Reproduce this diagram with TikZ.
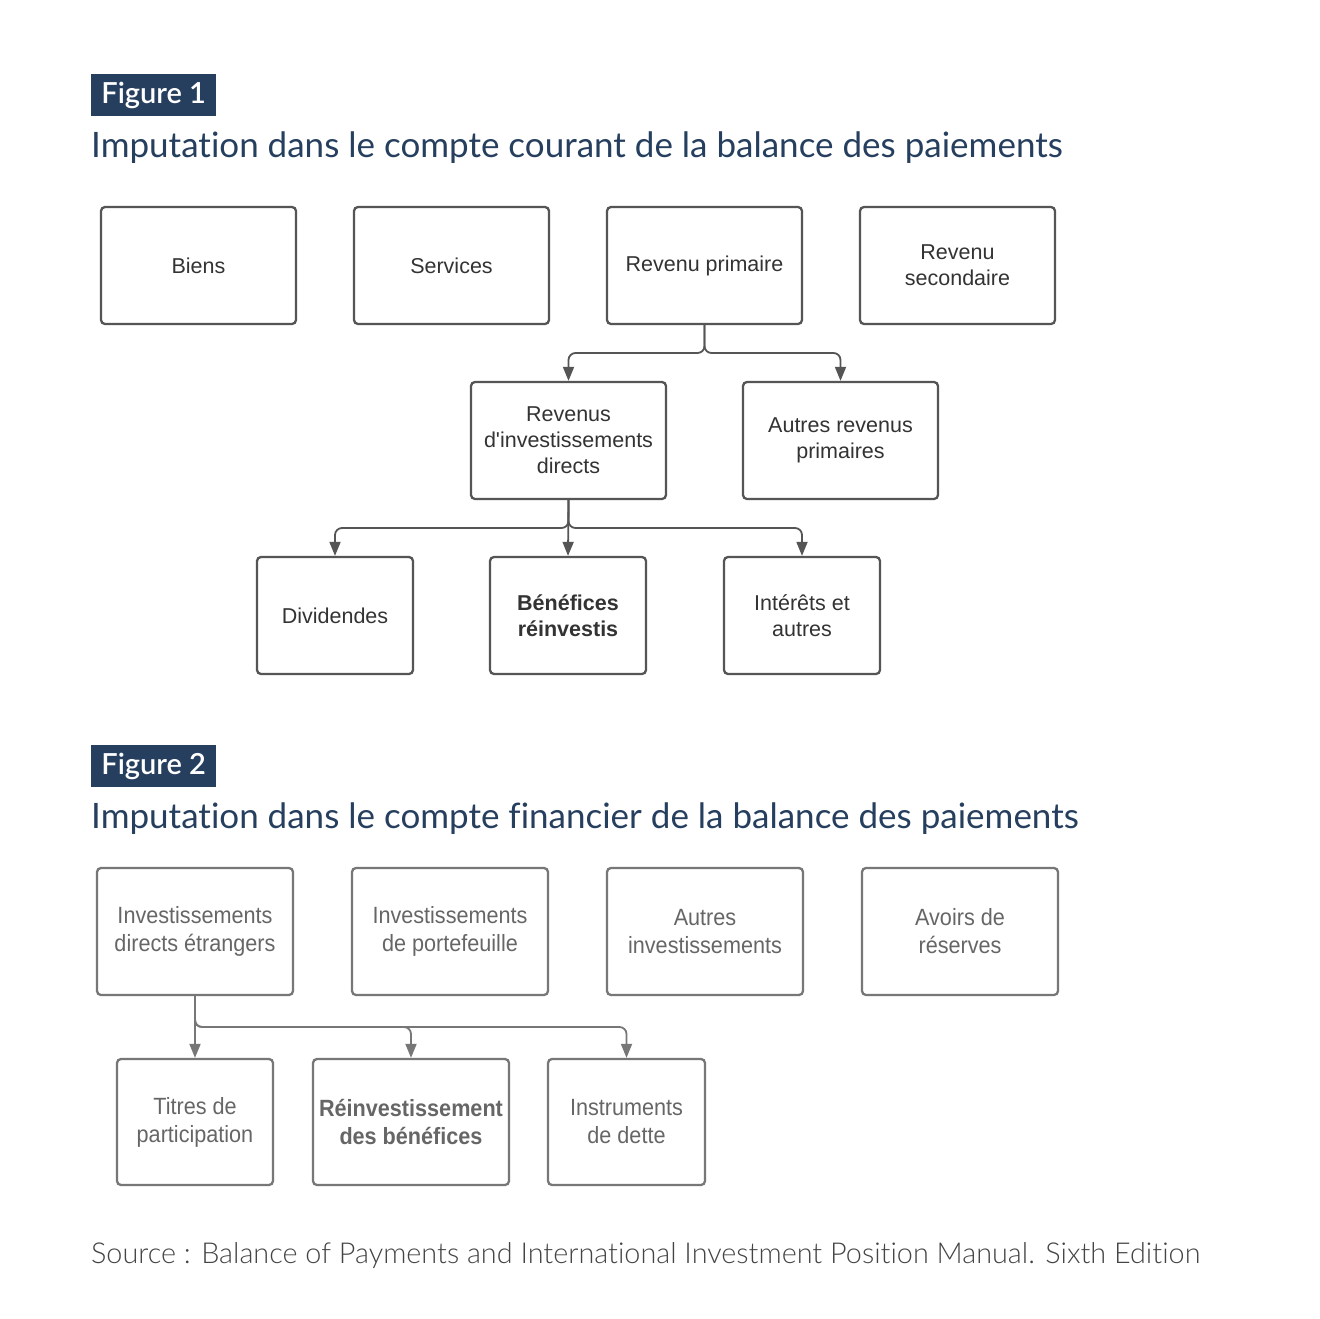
\documentclass[tikz,border=0pt]{standalone}
\usepackage{fontspec}
\setmainfont{Liberation Sans}
\newfontfamily\latofont[RawFeature=-liga]{Lato}
\newfontfamily\latolight[RawFeature=-liga]{Lato Light}
\newfontfamily\latosemi{Lato Semibold}
\newfontfamily\narrowfont[FakeStretch=0.92]{Liberation Sans}
\usetikzlibrary{arrows.meta}
\definecolor{navy}{HTML}{263F5E}
\definecolor{boxone}{HTML}{555555}
\definecolor{txtone}{HTML}{333333}
\definecolor{boxtwo}{HTML}{777777}
\definecolor{txttwo}{HTML}{666666}
\definecolor{srcgray}{HTML}{444444}
\tikzset{
  boxa/.style={draw=boxone, line width=2.3pt, rounded corners=4pt, fill=white,
    minimum width=195pt, minimum height=117pt, align=center, text=txtone,
    font=\fontsize{21.5}{26}\selectfont, inner sep=0pt},
  boxb/.style={draw=boxtwo, line width=2.3pt, rounded corners=4pt, fill=white,
    minimum width=196pt, minimum height=127pt, align=center, text=txttwo,
    font=\narrowfont\fontsize{23.5}{28}\selectfont, inner sep=0pt},
  conna/.style={draw=boxone, line width=1.8pt, rounded corners=7pt,
    -{Triangle[length=14pt,width=11pt]}},
  connb/.style={draw=boxtwo, line width=1.8pt, rounded corners=7pt,
    -{Triangle[length=14pt,width=11pt]}},
  figlabel/.style={fill=navy, text=white, font=\latosemi\fontsize{29}{30}\selectfont,
    minimum width=125pt, minimum height=42pt, inner sep=0pt, anchor=north west},
  figtitle/.style={text=navy, font=\latofont\fontsize{35}{38}\selectfont, anchor=base west, inner sep=0pt},
}
\begin{document}
\begin{tikzpicture}[x=1pt,y=-1pt]
\useasboundingbox[fill=white] (0,0) rectangle (1320,1318);

% Figure 1
\node[figlabel] (f1) at (91,74) {Figure 1};
\node[figtitle] (t1) at (91,157) {Imputation dans le compte courant de la balance des paiements};

\node[boxa] (biens) at (198.5,265.5) {Biens};
\node[boxa] (serv) at (451.5,265.5) {Services};
\node[boxa] (rp) at (704.5,265.5) {Revenu primaire};
\node[boxa] (rs) at (957.5,265.5) {Revenu\\secondaire};

\node[boxa] (rid) at (568.5,440.5) {Revenus\\d\textquotesingle investissements\\directs};
\node[boxa] (arp) at (840.5,440.5) {Autres revenus\\primaires};

\node[boxa, minimum width=156pt] (div) at (335,615.5) {Dividendes};
\node[boxa, minimum width=156pt, font=\bfseries\fontsize{21.5}{26}\selectfont] (ben) at (568,615.5) {Bénéfices\\réinvestis};
\node[boxa, minimum width=156pt] (int) at (802,615.5) {Intérêts et\\autres};

\coordinate (j1) at (704.5,353);
\draw[conna] (rp.south) -- (j1) -| (rid.north);
\draw[conna] (rp.south) -- (j1) -| (arp.north);

\coordinate (j2) at (568.5,528);
\draw[conna] (rid.south) -- (ben.north);
\draw[conna] (rid.south) -- (j2) -| (div.north);
\draw[conna] (rid.south) -- (j2) -| (int.north);

% Figure 2
\node[figlabel] (f2) at (91,745) {Figure 2};
\node[figtitle] (t2) at (91,828) {Imputation dans le compte financier de la balance des paiements};

\node[boxb] (ide) at (195,931.5) {Investissements\\directs étrangers};
\node[boxb] (ip) at (450,931.5) {Investissements\\de portefeuille};
\node[boxb] (ai) at (705,931.5) {Autres\\investissements};
\node[boxb] (ar) at (960,931.5) {Avoirs de\\réserves};

\node[boxb, minimum width=156pt, minimum height=126pt] (tp) at (195,1122) {Titres de\\participation};
\node[boxb, minimum width=196pt, minimum height=126pt, font=\bfseries\narrowfont\fontsize{23.5}{28}\selectfont] (rb) at (411,1122) {Réinvestissement\\des bénéfices};
\node[boxb, minimum width=157pt, minimum height=126pt] (id) at (626.5,1122) {Instruments\\de dette};

\coordinate (j3) at (195,1027);
\draw[connb] (ide.south) -- (tp.north);
\draw[connb] (ide.south) -- (j3) -| (rb.north);
\draw[connb] (ide.south) -- (j3) -| (id.north);

% Source
\node[text=srcgray, font=\latolight\fontsize{28.8}{30}\selectfont, anchor=base west, inner sep=0pt] (src) at (91,1263)
  {Source : Balance of Payments and International Investment Position Manual. Sixth Edition};
\end{tikzpicture}
\end{document}
